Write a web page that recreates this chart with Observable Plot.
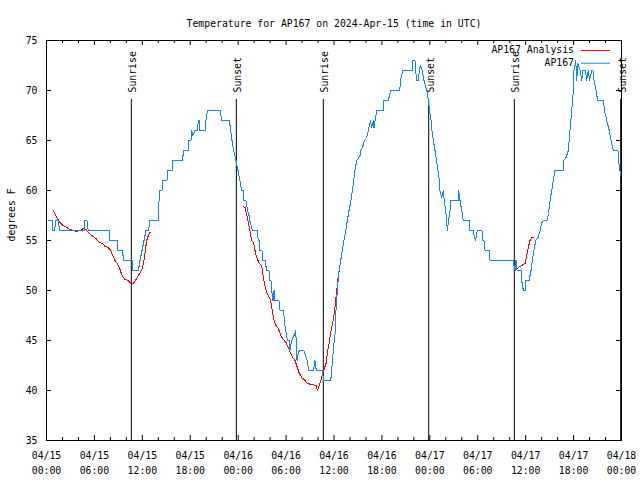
<!DOCTYPE html>
<html><head><meta charset="utf-8">
<script src="https://cdn.jsdelivr.net/npm/d3@7"></script>
<script src="https://cdn.jsdelivr.net/npm/@observablehq/plot@0.6"></script>
<style>body{margin:0;background:#fff}</style>
</head><body><div id="chart"></div>
<script>
const title = "Temperature for AP167 on 2024-Apr-15 (time in UTC)";
const yLabel = "degrees F";
const seriesNames = ["AP167 Analysis", "AP167"];
const seriesColors = ["#ff0000", "#1584f2"];

// Observed AP167 (hours since 2024-04-15 00:00 UTC, degrees F)
const obsHours = [0.23,0.69,0.81,1.00,1.19,1.44,1.69,4.70,4.76,5.07,5.23,7.86,7.95,8.87,8.95,9.54,9.62,10.71,10.77,11.50,11.71,11.96,12.21,12.46,12.80,12.90,14.00,14.09,14.21,14.46,14.55,15.09,15.18,15.72,15.84,16.97,17.22,17.72,17.84,18.09,18.18,18.34,18.60,18.91,19.01,19.16,19.22,19.85,19.97,20.14,21.73,21.94,22.89,23.07,23.23,23.42,23.60,23.73,23.98,24.23,24.42,24.61,24.73,24.98,25.17,25.36,25.48,25.77,26.40,26.52,26.67,26.73,26.98,27.07,27.36,27.57,27.86,27.92,28.11,28.20,28.33,28.43,28.49,28.58,29.11,29.24,29.70,29.78,29.95,30.18,30.37,30.49,30.70,30.87,31.12,31.21,31.31,31.37,31.46,31.66,32.24,32.43,32.66,32.81,33.43,33.62,33.78,34.54,34.69,35.59,35.71,35.91,36.13,36.25,36.41,36.63,36.84,37.04,37.25,37.47,37.67,37.88,38.13,38.42,38.63,38.84,39.04,39.26,39.34,39.57,39.80,40.07,40.30,40.57,40.70,40.92,41.01,41.35,42.17,42.26,42.80,43.10,44.23,44.33,44.60,45.86,45.89,46.14,46.23,46.36,46.58,46.68,46.83,47.06,47.15,47.27,47.61,47.83,47.96,48.15,48.27,48.44,48.65,48.84,49.02,49.19,49.27,49.46,49.69,49.81,49.99,50.11,50.21,50.34,50.53,50.65,51.53,51.62,51.78,51.99,52.19,52.91,53.03,53.44,53.59,53.72,53.94,54.53,54.62,54.78,54.91,55.41,55.54,58.45,58.54,58.67,58.79,58.92,59.46,59.50,59.71,59.96,60.04,60.42,60.67,60.83,61.04,61.26,61.55,61.80,61.98,62.21,62.67,62.86,63.05,63.26,63.46,63.67,64.68,64.74,65.05,65.34,65.55,65.77,65.97,66.05,66.27,66.39,66.55,66.81,67.02,67.14,67.49,67.64,67.84,68.00,68.27,68.43,68.56,68.81,69.02,69.75,69.87,70.15,70.47,70.69,70.98,71.56,71.63,71.75,71.90];
const obsTemps = [57,57,56,56,57,57,56,56,57,57,56,56,55,55,54,54,53,53,52,52,53,54,55,56,56,57,57,59,60,60,61,61,62,62,63,63,64,64,65,65,66,65.5,66,66,67,67,66,66,67,68,68,67,67,66,65,64,63.5,63,62,61,60,60,59,59,58,57.5,57,56,56,55,55,54,54,53,53,52,52,51,51,50,49,49,50,49,49,48,48,47,46,45,45,44,45,45.3,45.7,46,44,43,43.5,44,44,43.5,43,42,42,43,42,42,41,41,42,44,45.7,48,50,52,53,54,55,56,57,58,59,60.7,62,63,63.2,63.5,64,64.3,65,65.2,66,67,66.3,67,66.3,68,68,69,69,70,70,71,72,72,73,73,72,71,71,72,72.5,72,71.5,71,70,69,68,67,66,65,64,63,62,61,60,59.3,60,59,58,56.7,56,57,58,59,59,60,59,58,57,57,56,56,55.3,55,56,56,55,55,54,54,53,53,52.5,52,53,52,52,51,50,50,51,51,52,53,54,55,55.3,56,56.7,57,57,57.7,59,60,61,62,62,63,63.3,64,66,68,70,72,73,71,72.7,72,71,72,72,71,72,71,72,72,71,70,69,69,68,67,66,65,64,64,63,62.3,61.5];

// AP167 Analysis (NaN marks gaps between analysis segments)
const anaHours = [0.85,1.35,1.78,2.10,2.53,2.94,3.36,3.78,4.19,4.61,4.95,5.23,5.53,5.86,6.20,6.61,7.04,7.33,7.74,8.04,8.29,8.58,8.87,9.12,9.33,9.54,9.83,10.24,10.54,10.87,11.21,11.50,11.80,12.00,12.21,12.37,12.55,12.75,12.96,NaN,
  24.64,24.86,25.14,25.39,25.70,25.92,26.11,26.32,26.65,26.95,27.15,27.49,27.77,28.07,28.27,28.49,28.74,29.03,29.33,29.65,29.99,30.28,30.58,30.83,31.12,31.41,31.66,31.96,32.37,32.66,33.21,33.75,33.91,34.16,34.37,34.59,34.79,35.00,35.16,35.38,35.63,35.84,36.04,36.25,36.41,36.54,36.66,NaN,
  58.67,59.08,59.50,59.92,60.13,60.33,60.54,60.76,60.96];
const anaTemps = [58,57.2,56.7,56.5,56.3,56.1,56,55.9,56,56.2,56.1,55.8,55.6,55.4,55.2,54.8,54.7,54.4,54.3,54,53.5,53,52.7,52.3,51.8,51.4,51.1,51,50.7,50.7,51.1,51.5,51.9,52.2,53,54,55,55.5,55.8,NaN,
  58.4,58.3,57.3,56.3,55,54.8,54,53.3,52.7,52.5,51.3,50,49.5,49,48,47,46.5,46.2,45.5,45.1,44.8,44.3,43.7,43.3,43,42.3,41.7,41.3,41,40.7,40.6,40.5,40,40.5,41,41.7,42.2,42.7,43.7,44.7,46,46.8,47.7,49.3,50.5,51.5,52,NaN,
  52,52.3,52.5,52.7,53.5,54.3,55,55.3,55.3];

const sunHours = [10.62, 23.77, 34.66, 47.86, 58.58, 71.90];
const sunLabels = ["Sunrise", "Sunset", "Sunrise", "Sunset", "Sunrise", "Sunset"];

const yTicks = [35, 40, 45, 50, 55, 60, 65, 70, 75];
const xMajor = [0, 6, 12, 18, 24, 30, 36, 42, 48, 54, 60, 66, 72];
const xMinor = [2, 4, 8, 10, 14, 16, 20, 22, 26, 28, 32, 34, 38, 40, 44, 46, 50, 52, 56, 58, 62, 64, 68, 70];
const xTickLabels = ["04/15\n00:00","04/15\n06:00","04/15\n12:00","04/15\n18:00","04/16\n00:00","04/16\n06:00","04/16\n12:00","04/16\n18:00","04/17\n00:00","04/17\n06:00","04/17\n12:00","04/17\n18:00","04/18\n00:00"];

const obs = obsHours.map((h, i) => ({h, t: obsTemps[i]}));
const ana = anaHours.map((h, i) => ({h, t: anaTemps[i]}));
const sun = sunHours.map((h, i) => ({h, label: sunLabels[i]}));

const W = 640, H = 480, mL = 46, mR = 19, mT = 40, mB = 40;
const fw = W - mL - mR, fh = H - mT - mB;

const chart = Plot.plot({
  width: W, height: H,
  marginLeft: mL, marginRight: mR, marginTop: mT, marginBottom: mB,
  x: {domain: [0, 72]},
  y: {domain: [35, 75]},
  style: {fontFamily: "'DejaVu Sans Mono', monospace", fontSize: "9.8px", color: "black", background: "white", overflow: "visible"},
  marks: [
    Plot.text([title], {frameAnchor: "top", dy: -20}),
    Plot.text([yLabel], {frameAnchor: "left", rotate: -90, dx: -35, dy: 1}),
    Plot.axisX({ticks: xMajor, tickSize: 0, tickPadding: 8, lineHeight: 1.5, label: null, tickFormat: d => xTickLabels[xMajor.indexOf(d)]}),
    Plot.axisY({ticks: yTicks, tickSize: 0, tickPadding: 9, label: null}),
    // inward tick marks on all four sides
    Plot.ruleX(xMajor, {insetTop: fh - 5, stroke: "black"}),
    Plot.ruleX(xMajor, {insetBottom: fh - 5, stroke: "black"}),
    Plot.ruleX(xMinor, {insetTop: fh - 3, stroke: "black"}),
    Plot.ruleX(xMinor, {insetBottom: fh - 3, stroke: "black"}),
    Plot.ruleY(yTicks, {insetRight: fw - 5, stroke: "black"}),
    Plot.ruleY(yTicks, {insetLeft: fw - 5, stroke: "black"}),
    // sunrise / sunset markers
    Plot.ruleX(sun, {x: "h", insetTop: 59, stroke: "black"}),
    Plot.text(sun, {x: "h", text: "label", frameAnchor: "top", rotate: -90, textAnchor: "start", dy: 52, dx: -2}),
    Plot.line(ana, {x: "h", y: "t", stroke: seriesColors[0], strokeWidth: 1, shapeRendering: "crispEdges"}),
    Plot.line(obs, {x: "h", y: "t", stroke: seriesColors[1], strokeWidth: 1, shapeRendering: "crispEdges"}),
    Plot.frame({stroke: "black"})
  ]
});
document.getElementById("chart").appendChild(chart);

// legend (top-right, inside frame)
const svg = d3.select(chart);
const lg = svg.append("g").attr("font-family", "'DejaVu Sans Mono', monospace").attr("font-size", "9.8px");
seriesNames.forEach((name, i) => {
  const yy = mT + 10 + i * 12.7;
  const xr = W - mR;
  lg.append("text").attr("x", xr - 47).attr("y", yy).attr("dy", "0.32em").attr("text-anchor", "end").attr("fill", "black").text(name);
  lg.append("line").attr("x1", xr - 40).attr("x2", xr - 11).attr("y1", yy + 0.5).attr("y2", yy + 0.5).attr("stroke", seriesColors[i]).attr("stroke-width", 1);
});
</script>
</body></html>
